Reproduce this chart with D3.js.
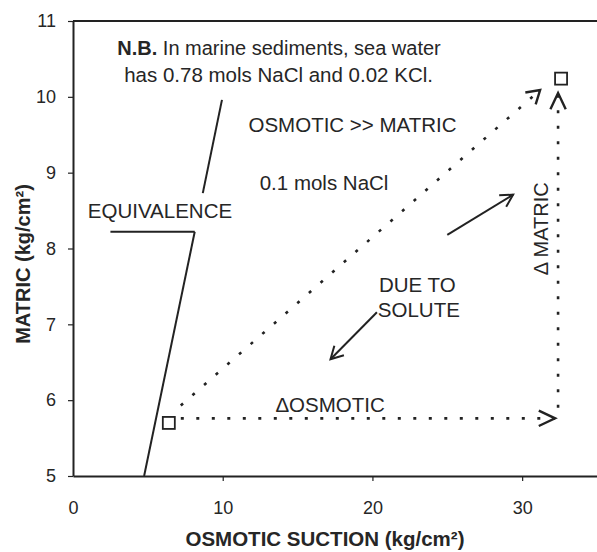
<!DOCTYPE html>
<html>
<head>
<meta charset="utf-8">
<script src="https://cdn.jsdelivr.net/npm/d3@7"></script>
<style>
  body { margin: 0; background: #fff; }
  svg text { font-family: "Liberation Sans", Arial, sans-serif; fill: #262626; }
</style>
</head>
<body>
<div id="chart"></div>
<script>
// axis ticks
var xTicks = [0, 10, 20, 30];
var yTicks = [5, 6, 7, 8, 9, 10, 11];

// equivalence line (broken where the label sits)
var equivLower = [[4.75, 5.0], [8.13, 8.22]];
var equivUpper = [[8.67, 8.73], [9.95, 9.96]];
var equivLeader = [[2.5, 8.22], [8.13, 8.22]];

// start / end states
var squares = [[6.4, 5.70], [32.6, 10.24]];

// dotted paths (from, to)
var dOsmotic = [[7.2, 5.76], [32.2, 5.76]];
var dMatric = [[32.4, 5.9], [32.4, 10.05]];
var dTotal = [[7.2, 5.93], [31.2, 10.09]];

// solid arrows
var solidArrows = [
    [[25.0, 8.18], [29.4, 8.71]],
    [[20.3, 7.16], [17.2, 6.54]]
];

// labels
var labels = [
    { t: "has 0.78 mols NaCl and 0.02 KCl.", x: 13.73, y: 10.2 },
    { t: "OSMOTIC >> MATRIC", x: 18.67, y: 9.54 },
    { t: "0.1 mols NaCl", x: 16.77, y: 8.77 },
    { t: "EQUIVALENCE", x: 5.81, y: 8.40 },
    { t: "DUE TO", x: 23.0, y: 7.43 },
    { t: "SOLUTE", x: 23.1, y: 7.10 },
    { t: "\u0394OSMOTIC", x: 17.17, y: 5.84 }
];

var margin = { top: 21, left: 73, bottom: 76 };
var W = 597, H = 552;

var svg = d3.select("#chart").append("svg")
    .attr("width", W)
    .attr("height", H);

var x = d3.scaleLinear().domain([0, 35]).range([margin.left, W]);
var y = d3.scaleLinear().domain([5, 11]).range([H - margin.bottom, margin.top]);

var ink = "#222";

// frame: left, bottom, top
var xAxis = svg.append("g")
    .attr("transform", "translate(0," + y(5) + ")")
    .call(d3.axisBottom(x).tickValues(xTicks).tickFormat(d3.format("d"))
        .tickSize(5).tickPadding(20).tickSizeOuter(0));
var yAxis = svg.append("g")
    .attr("transform", "translate(" + x(0) + ",0)")
    .call(d3.axisLeft(y).tickValues(yTicks).tickFormat(d3.format("d"))
        .tickSize(5).tickPadding(12).tickSizeOuter(0));

[xAxis, yAxis].forEach(function(a) {
    a.select(".domain").attr("stroke", ink).attr("stroke-width", 2);
    a.selectAll(".tick line").attr("stroke", ink).attr("stroke-width", 1.2);
    a.selectAll(".tick text").style("font-size", "18px").attr("fill", "#333");
});
xAxis.selectAll(".tick").filter(function(d) { return d === 0; }).select("line").remove();

svg.append("line")
    .attr("x1", x(0)).attr("x2", x(35))
    .attr("y1", y(11)).attr("y2", y(11))
    .attr("stroke", ink).attr("stroke-width", 2);

// axis titles
svg.append("text")
    .attr("x", 325).attr("y", 546)
    .attr("text-anchor", "middle")
    .style("font-size", "20.5px").style("font-weight", "bold")
    .text("OSMOTIC SUCTION (kg/cm\u00b2)");

svg.append("text")
    .attr("transform", "translate(30,264) rotate(-90)")
    .attr("text-anchor", "middle")
    .style("font-size", "20px").style("font-weight", "bold")
    .text("MATRIC (kg/cm\u00b2)");

var line = d3.line().x(function(d) { return x(d[0]); }).y(function(d) { return y(d[1]); });

// equivalence line
[equivLower, equivUpper, equivLeader].forEach(function(seg) {
    svg.append("path").attr("d", line(seg))
        .attr("fill", "none").attr("stroke", ink).attr("stroke-width", 2);
});

// open chevron at the end of a segment
function chevron(seg, len, ang, dotted) {
    var p0 = [x(seg[0][0]), y(seg[0][1])];
    var p1 = [x(seg[1][0]), y(seg[1][1])];
    var a = Math.atan2(p0[1] - p1[1], p0[0] - p1[0]);
    var pts = [
        [p1[0] + len * Math.cos(a + ang), p1[1] + len * Math.sin(a + ang)],
        p1,
        [p1[0] + len * Math.cos(a - ang), p1[1] + len * Math.sin(a - ang)]
    ];
    svg.append("path")
        .attr("d", d3.line()(pts))
        .attr("fill", "none").attr("stroke", ink)
        .attr("stroke-width", dotted ? 2.4 : 2)
        .attr("stroke-linejoin", "miter");
}

// dotted arrows
[dOsmotic, dMatric, dTotal].forEach(function(seg) {
    svg.append("path").attr("d", line(seg))
        .attr("fill", "none").attr("stroke", ink)
        .attr("stroke-width", 2.6)
        .attr("stroke-dasharray", "3,12.5");
});
chevron(dOsmotic, 18, 0.44, true);
chevron(dMatric, 18, 0.44, true);
chevron(dTotal, 15, 0.55, true);

// solid arrows
solidArrows.forEach(function(seg) {
    svg.append("path").attr("d", line(seg))
        .attr("fill", "none").attr("stroke", ink).attr("stroke-width", 2);
    chevron(seg, 14, 0.5, false);
});

// squares
svg.selectAll(".sq").data(squares).enter().append("rect")
    .attr("class", "sq")
    .attr("x", function(d) { return x(d[0]) - 6; })
    .attr("y", function(d) { return y(d[1]) - 6; })
    .attr("width", 12).attr("height", 12)
    .attr("fill", "#fff").attr("stroke", ink).attr("stroke-width", 1.8);

// notes
var nb = svg.append("text")
    .attr("x", x(13.76)).attr("y", y(10.55))
    .attr("text-anchor", "middle")
    .style("font-size", "20px");
nb.append("tspan").style("font-weight", "bold").text("N.B.");
nb.append("tspan").text(" In marine sediments, sea water");

svg.selectAll(".lbl").data(labels).enter().append("text")
    .attr("class", "lbl")
    .attr("x", function(d) { return x(d.x); })
    .attr("y", function(d) { return y(d.y); })
    .attr("text-anchor", "middle")
    .style("font-size", "20.5px")
    .text(function(d) { return d.t; });

svg.append("text")
    .attr("transform", "translate(" + x(31.73) + "," + y(8.26) + ") rotate(-90)")
    .attr("text-anchor", "middle")
    .style("font-size", "20px")
    .text("\u0394 MATRIC");
</script>
</body>
</html>
